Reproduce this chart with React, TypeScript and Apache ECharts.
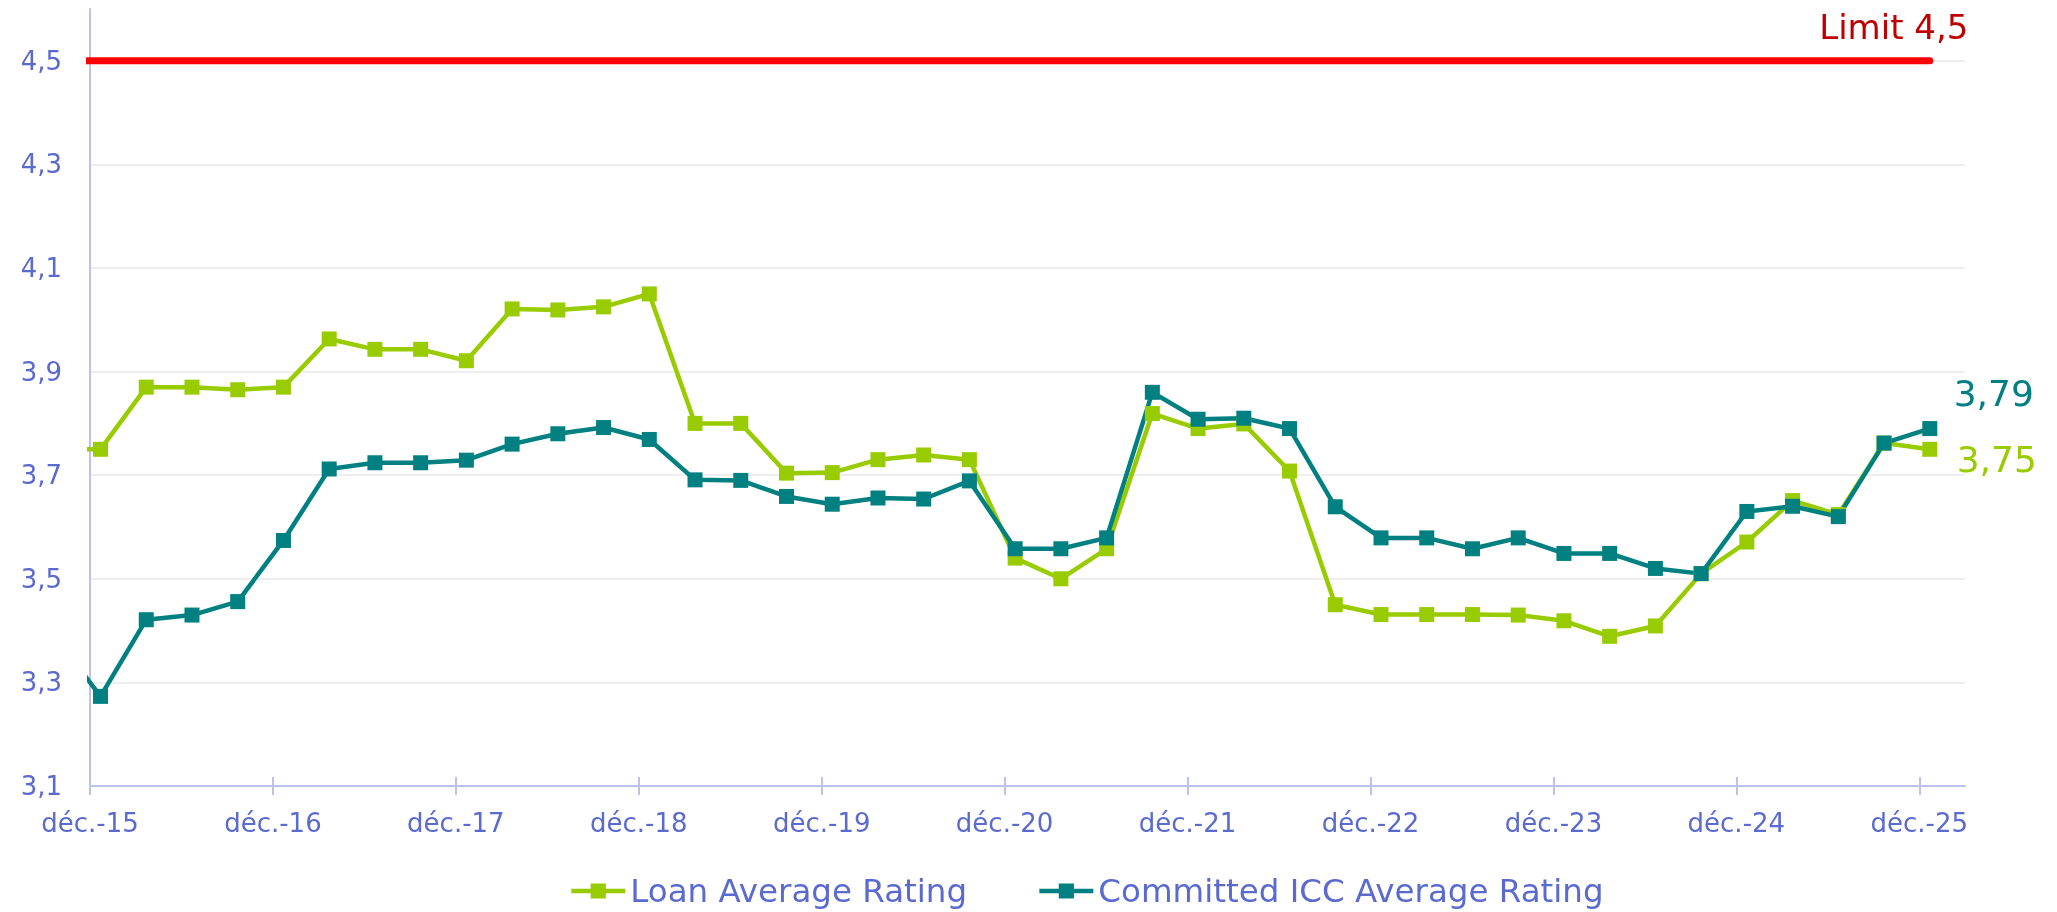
import React, { useEffect, useRef } from 'react';
import * as echarts from 'echarts';

// x positions are quarter indices, déc.-15 = 0; first value is the (clipped) sept.-15 point
const TICK_LABELS = ['déc.-15', 'déc.-16', 'déc.-17', 'déc.-18', 'déc.-19', 'déc.-20', 'déc.-21', 'déc.-22', 'déc.-23', 'déc.-24', 'déc.-25'];
const TICK_VALUES = [0, 4, 8, 12, 16, 20, 24, 28, 32, 36, 40];

const LOAN = [
  3.75,
  3.75, 3.87, 3.87, 3.865, 3.87, 3.963, 3.943, 3.943, 3.921, 4.021,
  4.019, 4.025, 4.05, 3.8, 3.8, 3.704, 3.705, 3.73, 3.739, 3.73,
  3.54, 3.5, 3.558, 3.819, 3.79, 3.799, 3.708, 3.45, 3.431, 3.431,
  3.431, 3.43, 3.419, 3.389, 3.409, 3.51, 3.571, 3.651, 3.624, 3.762,
  3.75,
];
const ICC = [
  3.39,
  3.273, 3.421, 3.43, 3.456, 3.574, 3.712, 3.724, 3.724, 3.729, 3.76,
  3.78, 3.792, 3.769, 3.691, 3.69, 3.659, 3.644, 3.656, 3.654, 3.689,
  3.558, 3.558, 3.579, 3.86, 3.808, 3.81, 3.79, 3.639, 3.579, 3.579,
  3.558, 3.579, 3.549, 3.549, 3.52, 3.51, 3.63, 3.64, 3.62, 3.762,
  3.79,
];
const LIMIT = 4.5;
const LIMIT_LABEL = 'Limit 4,5';
const SERIES_NAMES = ['Loan Average Rating', 'Committed ICC Average Rating'];

const GREEN = '#99cc00';
const TEAL = '#008080';
const RED = '#ff0000';
const DARK_RED = '#c00000';
const LABEL = '#5a6acf';
const AXIS = '#bcc3ea';
const GRID = '#eeeeee';
const FONT = 'DejaVu Sans';

export default function App() {
  const ref = useRef<HTMLDivElement>(null);

  useEffect(() => {
    const chart = echarts.init(ref.current!, null, { renderer: 'svg' });
    const OFFSET = 0.23;
    const xOf = (i: number) => i - 1 + OFFSET;
    const last = LOAN.length - 1;
    const fmt2 = (v: number) => v.toFixed(2).replace('.', ',');

    const build = (arr: number[], color: string, offset: number[]) =>
      arr.map((v, i) =>
        i === last
          ? {
              value: [xOf(i), v],
              label: {
                show: true,
                position: 'inside',
                offset,
                formatter: fmt2(v),
                color,
                fontSize: 36,
                fontFamily: FONT,
              },
            }
          : [xOf(i), v]
      );

    const limitData = LOAN.map((_, i) =>
      i === last
        ? {
            value: [xOf(i), LIMIT],
            label: {
              show: true,
              position: 'inside',
              offset: [-36, -34],
              formatter: LIMIT_LABEL,
              color: DARK_RED,
              fontSize: 34,
              fontFamily: FONT,
            },
          }
        : [xOf(i), LIMIT]
    );

    const lineSeries = (name: string, data: any[], color: string) => ({
      name,
      type: 'line',
      data,
      symbol: 'rect',
      symbolSize: 15,
      showAllSymbol: true,
      color,
      itemStyle: { color },
      lineStyle: { color, width: 4.5 },
      emphasis: { disabled: true },
      silent: true,
      clip: true,
    });

    chart.setOption({
      animation: false,
      grid: { left: 90, right: 92, top: 9, bottom: 126, outerBoundsMode: 'none' },
      legend: {
        top: 874,
        left: 569,
        padding: 0,
        itemWidth: 54,
        itemHeight: 19,
        itemGap: 70,
        data: SERIES_NAMES,
        lineStyle: { width: 4.5 },
        textStyle: { color: LABEL, fontSize: 32.5, fontFamily: FONT, lineHeight: 34 },
      },
      xAxis: [
        {
          type: 'value',
          min: 0,
          max: 41,
          position: 'bottom',
          axisLine: { show: true, onZero: false, lineStyle: { color: AXIS, width: 2 } },
          axisTick: { show: true, customValues: TICK_VALUES, length: 9, lineStyle: { color: AXIS, width: 2 } },
          axisLabel: {
            customValues: TICK_VALUES,
            formatter: (v: number) => TICK_LABELS[Math.round(v / 4)],
            color: LABEL,
            fontSize: 26,
            fontFamily: FONT,
            margin: 24,
          },
          splitLine: { show: false },
        },
        {
          type: 'value',
          min: 0,
          max: 41,
          position: 'bottom',
          axisLine: { show: false, onZero: false },
          axisTick: { show: true, inside: true, customValues: TICK_VALUES, length: 9, lineStyle: { color: AXIS, width: 2 } },
          axisLabel: { show: false },
          splitLine: { show: false },
        },
      ],
      yAxis: {
        type: 'value',
        min: 3.1,
        max: 4.6,
        interval: 0.2,
        axisLine: { show: true, lineStyle: { color: AXIS, width: 2 } },
        axisTick: { show: false },
        axisLabel: {
          formatter: (v: number) => (v > 4.55 ? '' : v.toFixed(1).replace('.', ',')),
          color: LABEL,
          fontSize: 26,
          fontFamily: FONT,
          margin: 28,
        },
        splitLine: { show: true, showMinLine: false, showMaxLine: false, lineStyle: { color: GRID, width: 2 } },
      },
      series: [
        {
          name: 'Limit',
          type: 'line',
          data: limitData,
          symbol: 'circle',
          symbolSize: 0,
          showAllSymbol: true,
          itemStyle: { color: RED },
          lineStyle: { color: RED, width: 7, cap: 'round' },
          emphasis: { disabled: true },
          silent: true,
          clip: true,
        },
        lineSeries(SERIES_NAMES[0], build(LOAN, GREEN, [67, 10]), GREEN),
        lineSeries(SERIES_NAMES[1], build(ICC, TEAL, [64, -35]), TEAL),
      ],
    });

    return () => chart.dispose();
  }, []);

  return <div ref={ref} style={{ position: 'fixed', left: 0, top: 0, width: 2057, height: 912 }} />;
}
